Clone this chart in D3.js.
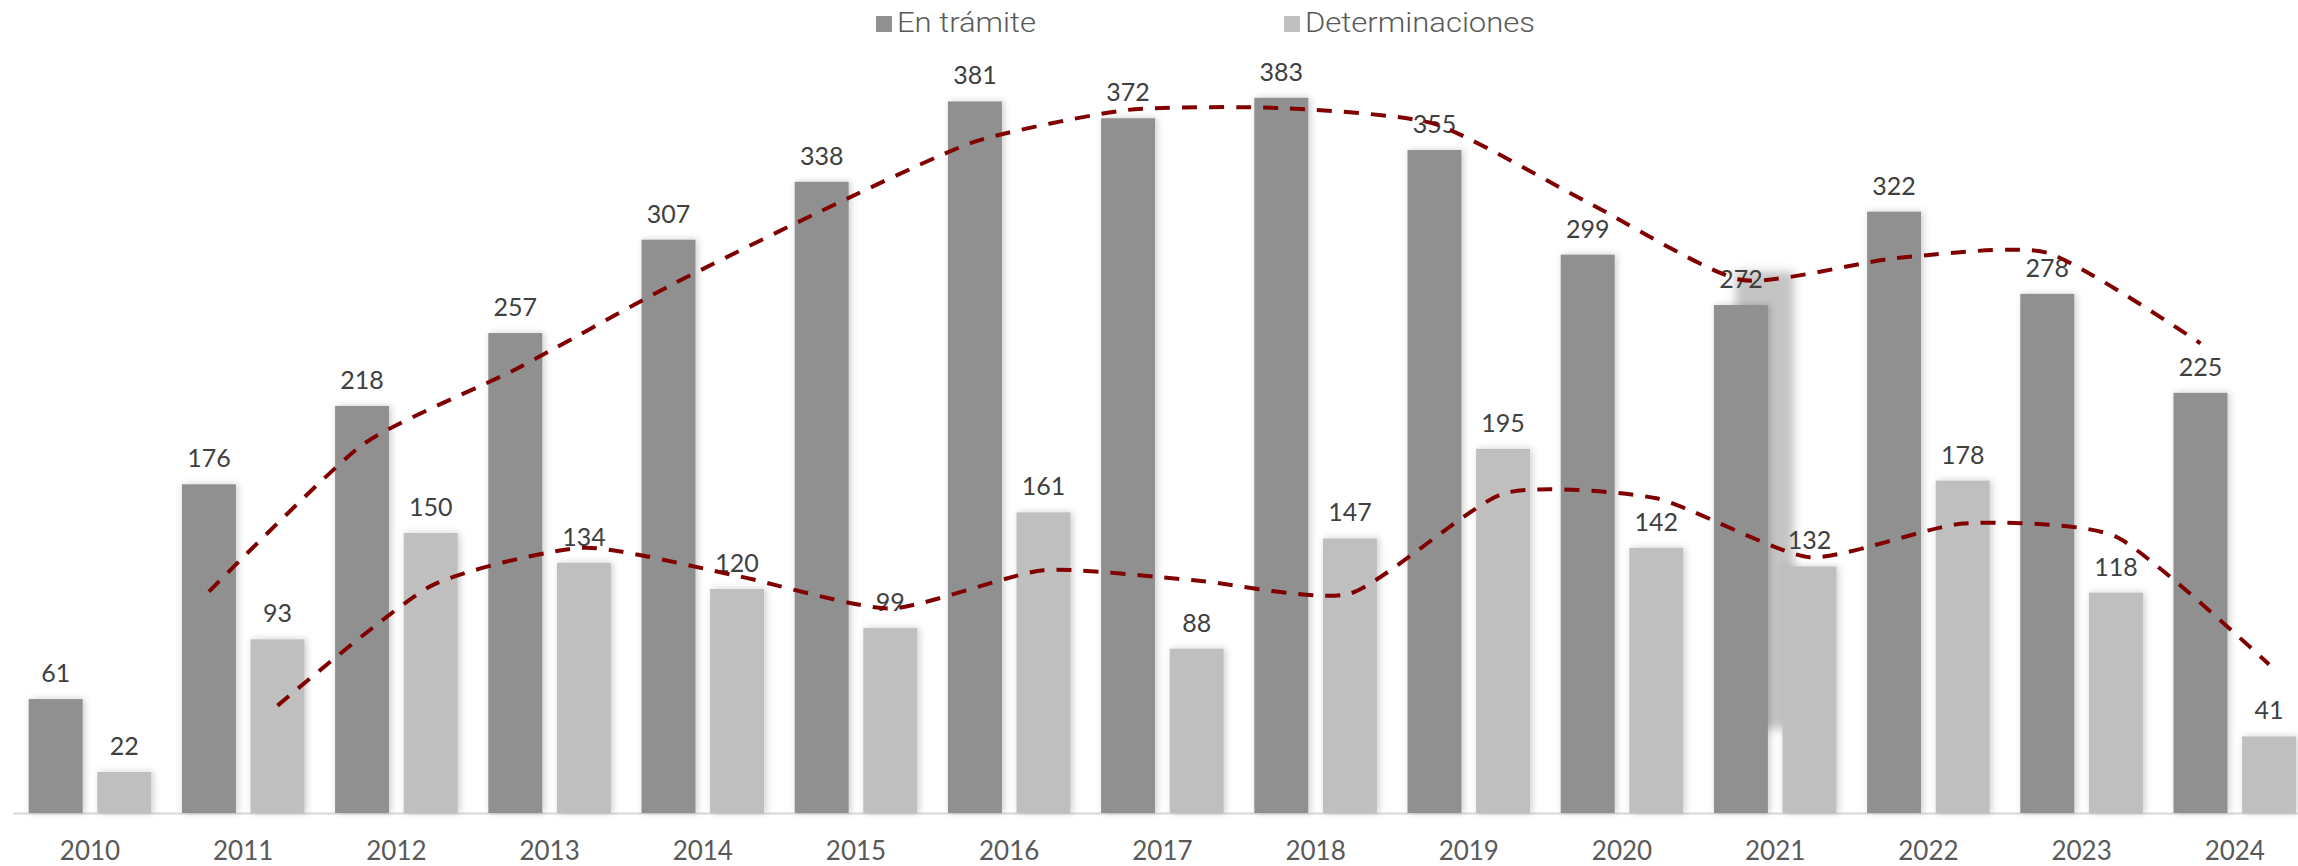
<!DOCTYPE html>
<html>
<head>
<meta charset="utf-8">
<script src="https://cdn.jsdelivr.net/npm/d3@7"></script>
<style>
  body { margin: 0; background: #fff; }
  svg { display: block; }
</style>
</head>
<body>
<svg id="chart" width="2298" height="866"></svg>
<script>
// datos
const years = ["2010", "2011", "2012", "2013", "2014", "2015", "2016", "2017",
    "2018", "2019", "2020", "2021", "2022", "2023", "2024"];
const series = ["En trámite", "Determinaciones"];
const enTramite = [61, 176, 218, 257, 307, 338, 381, 372, 383, 355, 299, 272, 322, 278, 225];
const determinaciones = [22, 93, 150, 134, 120, 99, 161, 88, 147, 195, 142, 132, 178, 118, 41];
// líneas de tendencia (media móvil de 2 periodos; desde 2011)
const tendEnTramite = [118.5, 197, 237.5, 282, 322.5, 359.5, 376.5, 377.5, 369, 327, 285.5, 297, 300, 251.5];
const tendDeterminaciones = [57.5, 121.5, 142, 127, 109.5, 130, 124.5, 117.5, 171, 168.5, 137, 155, 148, 79.5];

const colors = { "En trámite": "#909090", "Determinaciones": "#bfbfbf" };

const width = 2298;
const height = 866;
const baseY = 813;

const svg = d3.select("#chart");

// sombra suave de las barras
const defs = svg.append("defs");
const sh = defs.append("filter").attr("id", "shadow")
    .attr("x", "-30%").attr("y", "-30%").attr("width", "160%").attr("height", "160%");
sh.append("feDropShadow").attr("dx", 2).attr("dy", 0).attr("stdDeviation", 3.5)
    .attr("flood-color", "#000").attr("flood-opacity", 0.2);
defs.append("filter").attr("id", "blur")
    .attr("x", "-50%").attr("y", "-10%").attr("width", "200%").attr("height", "120%")
    .append("feGaussianBlur").attr("stdDeviation", 5);

// escalas
const x0 = d3.scaleBand().domain(years).range([13.4, 13.4 + 15 * 153.2]).padding(0);
const x1 = d3.scaleBand().domain(series).range([15.3, 153.2 - 15.3]).paddingInner(0.2128);
const y = d3.scaleLinear().domain([0, 400]).range([baseY, baseY - 400 * 1.8675]);

const rows = years.map((yr, i) => ({ year: yr, "En trámite": enTramite[i], "Determinaciones": determinaciones[i] }));

// sombra extraña detrás de la barra de 2021
const bx21 = x0("2021") + x1("En trámite");
svg.append("rect")
    .attr("x", bx21 + x1.bandwidth() * 0.4)
    .attr("y", y(290))
    .attr("width", x1.bandwidth() * 0.6 + 26)
    .attr("height", y(45) - y(290))
    .attr("fill", "#c4c4c4")
    .attr("filter", "url(#blur)");

// eje x (línea base)
svg.append("line")
    .attr("x1", x0.range()[0]).attr("x2", width)
    .attr("y1", baseY + 0.5).attr("y2", baseY + 0.5)
    .attr("stroke", "#d9d9d9").attr("stroke-width", 2);

// barras
const group = svg.append("g").selectAll("g")
    .data(rows)
    .join("g")
    .attr("transform", d => `translate(${x0(d.year)},0)`);

group.selectAll("rect")
    .data(d => series.map(k => ({ key: k, value: d[k] })))
    .join("rect")
    .attr("x", d => x1(d.key))
    .attr("y", d => y(d.value))
    .attr("width", x1.bandwidth())
    .attr("height", d => baseY - y(d.value))
    .attr("fill", d => colors[d.key])
    .attr("filter", "url(#shadow)");

// etiquetas de datos
group.selectAll("text")
    .data(d => series.map(k => ({ key: k, value: d[k] })))
    .join("text")
    .attr("x", d => x1(d.key) + x1.bandwidth() / 2)
    .attr("y", d => y(d.value) - 17)
    .attr("text-anchor", "middle")
    .style("font", "25px Lato, 'Open Sans', sans-serif")
    .attr("fill", "#404040")
    .text(d => d.value);

// etiquetas del eje
svg.append("g").selectAll("text")
    .data(years)
    .join("text")
    .attr("x", d => x0(d) + x0.bandwidth() / 2)
    .attr("y", 860)
    .attr("text-anchor", "middle")
    .style("font", "26px Lato, 'Open Sans', sans-serif")
    .attr("fill", "#595959")
    .text(d => d);

// líneas de tendencia
const line = d3.line()
    .x(d => d.x)
    .y(d => y(d.v))
    .curve(d3.curveCardinal.tension(0.4));

[[tendEnTramite, "En trámite"], [tendDeterminaciones, "Determinaciones"]].forEach(([vals, key]) => {
    const pts = vals.map((v, i) => ({
        x: x0(years[i + 1]) + x1(key) + x1.bandwidth() / 2,
        v: v
    }));
    svg.append("path")
        .datum(pts)
        .attr("d", line)
        .attr("fill", "none")
        .attr("stroke", "#800000")
        .attr("stroke-width", 4)
        .attr("stroke-dasharray", "15,12");
});

// leyenda
const legend = [
    { key: "En trámite", x: 876, len: 139 },
    { key: "Determinaciones", x: 1284, len: 230 }
];
const lg = svg.append("g").selectAll("g")
    .data(legend)
    .join("g")
    .attr("transform", d => `translate(${d.x},0)`);
lg.append("rect")
    .attr("x", 0).attr("y", 16)
    .attr("width", 16).attr("height", 16)
    .attr("fill", d => colors[d.key]);
lg.append("text")
    .attr("x", 21).attr("y", 32)
    .style("font", "300 27px Roboto, sans-serif")
    .attr("fill", "#595959")
    .attr("textLength", d => d.len)
    .attr("lengthAdjust", "spacingAndGlyphs")
    .text(d => d.key);
</script>
</body>
</html>
